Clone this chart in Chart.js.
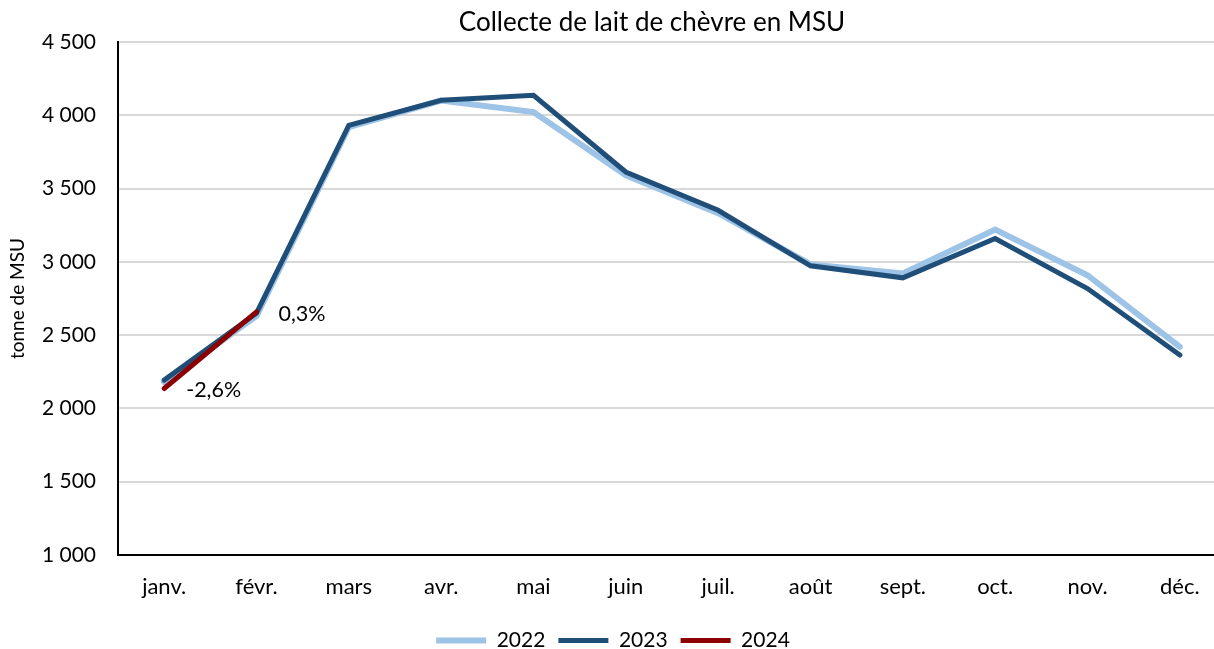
<!DOCTYPE html>
<html>
<head>
<meta charset="utf-8">
<script src="https://cdn.jsdelivr.net/npm/chart.js@4/dist/chart.umd.min.js"></script>
<style>
  html, body { margin: 0; padding: 0; background: #fff; overflow: hidden; }
  #wrap { position: relative; width: 1214px; height: 649px; overflow: hidden; }
  #title {
    position: absolute; left: 0; top: 5px; width: 1304px;
    text-align: center; font-family: Lato, sans-serif; font-size: 26px; color: #000;
  }
</style>
</head>
<body>
<div id="wrap">
  <canvas id="chart" width="1226" height="649"></canvas>
  <div id="title">Collecte de lait de chèvre en MSU</div>
</div>
<script>
const months = ['janv.', 'févr.', 'mars', 'avr.', 'mai', 'juin', 'juil.', 'août', 'sept.', 'oct.', 'nov.', 'déc.'];
const collecte2022 = [2180, 2630, 3920, 4100, 4022, 3591, 3332, 2982, 2921, 3220, 2909, 2420];
const collecte2023 = [2193, 2650, 3932, 4102, 4136, 3613, 3352, 2973, 2891, 3159, 2818, 2364];
const collecte2024 = [2136, 2659];
const evol2024 = ['-2,6%', '0,3%'];

const fontFamily = 'Lato, sans-serif';

// labels for 2024 variation next to the points
const evolLabels = {
  id: 'evolLabels',
  afterDatasetsDraw(chart) {
    const meta = chart.getDatasetMeta(2);
    const ctx = chart.ctx;
    ctx.save();
    ctx.font = '21.5px ' + fontFamily;
    ctx.fillStyle = '#000';
    ctx.textAlign = 'left';
    ctx.textBaseline = 'middle';
    meta.data.forEach((pt, i) => {
      ctx.fillText(evol2024[i], pt.x + 22, pt.y + 2);
    });
    ctx.restore();
  }
};

const data = {
  labels: months,
  datasets: [
    {
      label: '2022',
      data: collecte2022,
      borderColor: '#9DC3E6',
      backgroundColor: '#9DC3E6',
      borderWidth: 6,
      order: 3,
    },
    {
      label: '2023',
      data: collecte2023,
      borderColor: '#1F4E79',
      backgroundColor: '#1F4E79',
      borderWidth: 5,
      order: 2,
    },
    {
      label: '2024',
      data: collecte2024,
      borderColor: '#8B0000',
      backgroundColor: '#8B0000',
      borderWidth: 5,
      order: 1,
    },
  ]
};

new Chart(document.getElementById('chart'), {
  type: 'line',
  data,
  plugins: [evolLabels],
  options: {
    responsive: false,
    animation: false,
    layout: { padding: { top: 42, right: 0, bottom: -12, left: 0 } },
    elements: {
      point: { radius: 0, hoverRadius: 0 },
      line: { tension: 0, borderCapStyle: 'round' },
    },
    plugins: {
      title: { display: false },
      tooltip: { enabled: false },
      legend: {
        position: 'bottom',
        labels: {
          usePointStyle: true,
          pointStyle: 'line',
          pointStyleWidth: 50,
          padding: 13,
          color: '#000',
          font: { family: fontFamily, size: 21 },
          sort: (a, b) => a.datasetIndex - b.datasetIndex,
        },
      },
    },
    scales: {
      x: {
        offset: true,
        grid: { display: false, drawTicks: false },
        border: { display: true, color: '#000', width: 2 },
        afterFit(scale) { scale.height = 62; },
        ticks: { color: '#000', padding: 19, font: { family: fontFamily, size: 22 } },
      },
      y: {
        min: 1000,
        max: 4500,
        grid: { color: '#d9d9d9', lineWidth: 2, drawTicks: false },
        border: { display: true, color: '#000', width: 2 },
        afterFit(scale) { scale.width = 118; },
        ticks: {
          stepSize: 500,
          color: '#000',
          padding: 22,
          font: { family: fontFamily, size: 21 },
          callback: v => String(v).replace(/\B(?=(\d{3})+(?!\d))/g, ' '),
        },
        title: {
          display: true,
          text: 'tonne de MSU',
          color: '#000',
          padding: { top: 6, bottom: 0 },
          font: { family: fontFamily, size: 19 },
        },
      },
    },
  },
});
</script>
</body>
</html>
